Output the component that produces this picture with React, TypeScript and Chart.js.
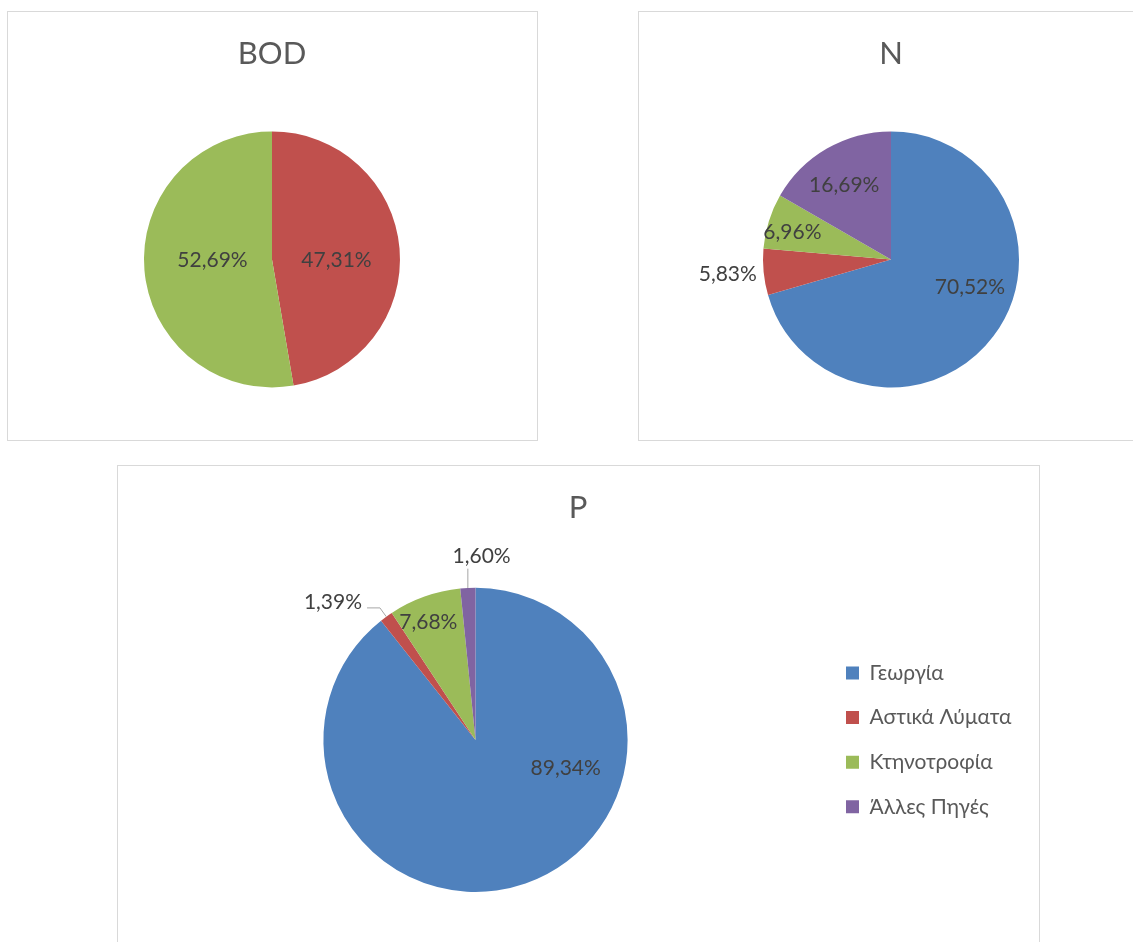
import React, { useEffect, useRef } from 'react';
import { Chart, registerables } from 'chart.js';

Chart.register(...registerables);

// Pollution sources and their shares (%) per pollutant
const categories = ['Γεωργία', 'Αστικά Λύματα', 'Κτηνοτροφία', 'Άλλες Πηγές'];
const bodValues = [0, 47.31, 52.69, 0];
const nValues = [70.52, 5.83, 6.96, 16.69];
const pValues = [89.34, 1.39, 7.68, 1.6];
const sliceColors = ['#4F81BD', '#C0504D', '#9BBB59', '#8064A2'];

// Where each percentage label sits, relative to the pie centre in radius units
const bodLabelPos = [[0, 0], [0.504, 0], [-0.465, 0], [0, 0]];
const nLabelPos = [[0.617, 0.209], [-1.275, 0.112], [-0.77, -0.215], [-0.365, -0.586]];
const pLabelPos = [[0.593, 0.184], [-0.937, -0.911], [-0.31, -0.779], [0.04, -1.215]];
const pLeaders = [false, true, false, true];

const FONT = 'Lato, "Open Sans", sans-serif';
Chart.defaults.font.family = FONT;

const LABEL_SIZE = 21;

function formatPct(v: number) {
  return v.toFixed(2).replace('.', ',') + '%';
}

// Draws the percentage labels (and leader lines for small outside slices)
function sliceLabels(pos: number[][], leaders?: boolean[]) {
  return {
    id: 'sliceLabels',
    afterDatasetsDraw(chart: any) {
      const ctx: CanvasRenderingContext2D = chart.ctx;
      const meta = chart.getDatasetMeta(0);
      const data = chart.data.datasets[0].data as number[];
      const capH = LABEL_SIZE * 0.72;
      ctx.save();
      ctx.font = `${LABEL_SIZE}px ${FONT}`;
      ctx.textAlign = 'center';
      ctx.textBaseline = 'alphabetic';
      meta.data.forEach((el: any, i: number) => {
        const v = data[i];
        if (!v) return;
        const { x, y, startAngle, endAngle, outerRadius } = el.getProps(
          ['x', 'y', 'startAngle', 'endAngle', 'outerRadius'],
          true
        );
        const text = formatPct(v);
        const tx = x + pos[i][0] * outerRadius;
        const ty = y + pos[i][1] * outerRadius;
        const base = ty + capH / 2;
        const w = ctx.measureText(text).width;
        if (leaders && leaders[i]) {
          const mid = (startAngle + endAngle) / 2;
          const ex = x + Math.cos(mid) * outerRadius;
          const ey = y + Math.sin(mid) * outerRadius;
          ctx.beginPath();
          ctx.strokeStyle = '#a6a6a6';
          ctx.lineWidth = 1;
          ctx.moveTo(ex, ey);
          if (ex >= tx - w / 2 && ex <= tx + w / 2) {
            ctx.lineTo(ex, base + 6);
          } else {
            const ly = base - 1;
            const t = (ly - ey) / Math.sin(mid);
            const bx = ex + Math.cos(mid) * t;
            const endX = tx > ex ? tx - w / 2 - 5 : tx + w / 2 + 5;
            ctx.lineTo(bx, ly);
            ctx.lineTo(endX, ly);
          }
          ctx.stroke();
        }
        ctx.fillStyle = '#404040';
        ctx.fillText(text, tx, base);
      });
      ctx.restore();
    },
  };
}

// Gives the legend a fixed column width so the title stays centred on the panel
function legendColumn(width: number) {
  return {
    id: 'legendColumn',
    beforeLayout(chart: any) {
      const lg = chart.legend;
      if (lg && !lg.__fixedWidth) {
        const fit = lg.fit.bind(lg);
        lg.fit = () => {
          fit();
          lg.width = Math.max(lg.width, width);
        };
        lg.__fixedWidth = true;
      }
    },
  };
}

type PanelProps = {
  title: string;
  values: number[];
  labelPos: number[][];
  leaders?: boolean[];
  legend?: boolean;
  left: number;
  top: number;
  width: number;
  height: number;
  pad: { left: number; right: number; bottom: number };
  titlePad: { top: number; bottom: number };
  legendWidth?: number;
  legendGap?: number;
};

function PiePanel(p: PanelProps) {
  const ref = useRef<HTMLCanvasElement>(null);

  useEffect(() => {
    let chart: Chart | null = null;
    let dead = false;
    const build = () => {
      if (dead || !ref.current) return;
      const plugins: any[] = [sliceLabels(p.labelPos, p.leaders)];
      if (p.legend && p.legendWidth) plugins.push(legendColumn(p.legendWidth));
      chart = new Chart(ref.current, {
        type: 'pie',
        data: {
          labels: categories,
          datasets: [
            {
              data: p.values,
              backgroundColor: sliceColors,
              borderWidth: 0,
              hoverBorderWidth: 0,
              hoverOffset: 0,
            } as any,
          ],
        },
        options: {
          responsive: false,
          animation: false,
          events: [],
          layout: { padding: { left: p.pad.left, right: p.pad.right, top: 0, bottom: p.pad.bottom } },
          plugins: {
            tooltip: { enabled: false },
            title: {
              display: true,
              text: p.title,
              color: '#595959',
              font: { size: 31, weight: 'normal', family: FONT },
              padding: { top: p.titlePad.top, bottom: p.titlePad.bottom },
            },
            legend: {
              display: !!p.legend,
              position: 'right',
              fullSize: false,
              align: 'center',
              labels: {
                boxWidth: 13,
                boxHeight: 13,
                padding: p.legendGap ?? 10,
                color: '#595959',
                font: { size: 21, family: FONT },
              },
            },
          },
        },
        plugins,
      });
    };
    const fonts = (document as any).fonts;
    if (fonts && fonts.load) fonts.load(`20px Lato`).then(build, build);
    else build();
    return () => {
      dead = true;
      if (chart) chart.destroy();
    };
  }, []);

  return (
    <div
      style={{
        position: 'absolute',
        left: p.left,
        top: p.top,
        width: p.width,
        height: p.height,
        border: '1px solid #d9d9d9',
        background: '#ffffff',
      }}
    >
      <canvas ref={ref} width={p.width} height={p.height} style={{ display: 'block' }} />
    </div>
  );
}

export default function App() {
  return (
    <div
      style={{
        position: 'fixed',
        left: 0,
        top: 0,
        width: 1133,
        height: 942,
        overflow: 'hidden',
        background: '#ffffff',
      }}
    >
      <PiePanel
        title="BOD"
        values={bodValues}
        labelPos={bodLabelPos}
        left={7}
        top={11}
        width={529}
        height={428}
        pad={{ left: 136, right: 137, bottom: 52 }}
        titlePad={{ top: 23, bottom: 58.6 }}
      />
      <PiePanel
        title="N"
        values={nValues}
        labelPos={nLabelPos}
        left={638}
        top={11}
        width={518}
        height={428}
        pad={{ left: 124, right: 138, bottom: 52 }}
        titlePad={{ top: 23, bottom: 58.6 }}
      />
      <PiePanel
        title="P"
        values={pValues}
        labelPos={pLabelPos}
        leaders={pLeaders}
        legend
        left={117}
        top={465}
        width={921}
        height={500}
        pad={{ left: 10.6, right: 11.6, bottom: 74 }}
        titlePad={{ top: 23, bottom: 61.6 }}
        legendWidth={205}
        legendGap={23.6}
      />
    </div>
  );
}
